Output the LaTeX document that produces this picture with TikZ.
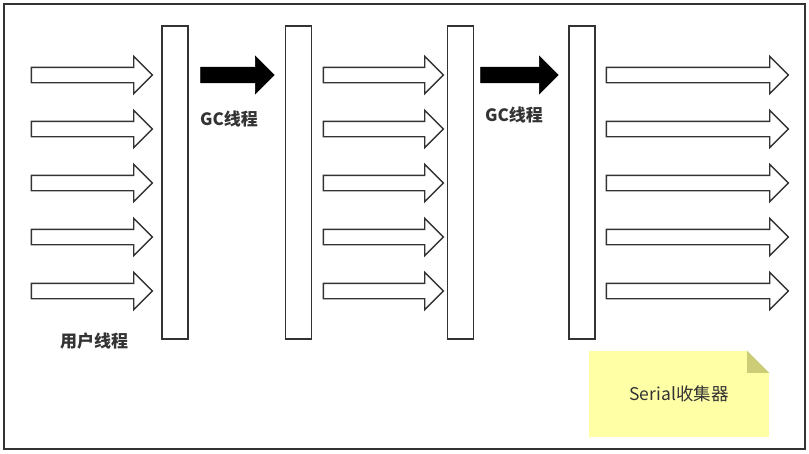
\documentclass[tikz,border=0pt]{standalone}
\usepackage{fontspec}
\setmainfont{Noto Sans CJK SC}
\usepackage{xcolor}
\definecolor{lineGray}  {HTML}{333333}
\definecolor{noteBack}  {HTML}{FFFFA6}
\definecolor{noteFold}  {HTML}{CDCD78}
\usetikzlibrary{shapes.arrows, positioning}
\tikzset{
    frame/.style={draw=lineGray, line width=1.6pt},
    bar/.style={draw=lineGray, line width=1.6pt, fill=white,
                minimum width=26pt, minimum height=313pt, inner sep=0pt},
    userarrow/.style={single arrow, draw=lineGray, line width=1.4pt, fill=white,
                      inner sep=7pt, single arrow head extend=11pt,
                      single arrow head indent=0pt, anchor=tail},
    gcarrow/.style={single arrow, fill=black, draw=black, line width=0.6pt,
                    inner sep=7.5pt, single arrow head extend=11pt,
                    single arrow head indent=0pt, anchor=tail},
    label/.style={font=\bfseries\fontsize{17}{19}\selectfont, text=lineGray},
    note/.style={fill=noteBack, minimum width=180pt, minimum height=86pt,
                 inner sep=0pt, font=\fontsize{17.5}{19}\selectfont, text=lineGray},
}

\begin{document}
\begin{tikzpicture}[x=1pt, y=-1pt]
    \useasboundingbox (0,0) rectangle (809,453);
    \draw[frame] (4,4) rectangle (805,449);

    % barriers
    \node[bar] (bar1) at (175,182.5) {};
    \node[bar] (bar2) at (298.5,182.5) {};
    \node[bar] (bar3) at (460.5,182.5) {};
    \node[bar] (bar4) at (582,182.5) {};

    % user threads
    \foreach \i/\y in {1/75, 2/129, 3/183, 4/237, 5/291} {
        \node[userarrow, minimum height=121pt] (ua\i) at (30.7,\y) {};
        \node[userarrow, minimum height=120pt] (ub\i) at (322.7,\y) {};
        \node[userarrow, minimum height=182pt] (uc\i) at (605.7,\y) {};
    }

    % gc threads
    \node[gcarrow, minimum height=73.5pt] (gc1) at (200.3,75) {};
    \node[gcarrow, minimum height=77.5pt] (gc2) at (480.3,75) {};
    \node[label] (gclabel1) at (229,119) {GC线程};
    \node[label] (gclabel2) at (514,115) {GC线程};
    \node[label] (userlabel) at (94,341) {用户线程};

    % note
    \node[note] (note) at (679,394) {Serial收集器};
    \fill[white] ([xshift=-22pt]note.north east) -- (note.north east)
        -- ([yshift=-22pt]note.north east) -- cycle;
    \fill[noteFold] ([xshift=-22pt]note.north east)
        -- ([xshift=-22pt, yshift=-22pt]note.north east)
        -- ([yshift=-22pt]note.north east) -- cycle;
\end{tikzpicture}
\end{document}
